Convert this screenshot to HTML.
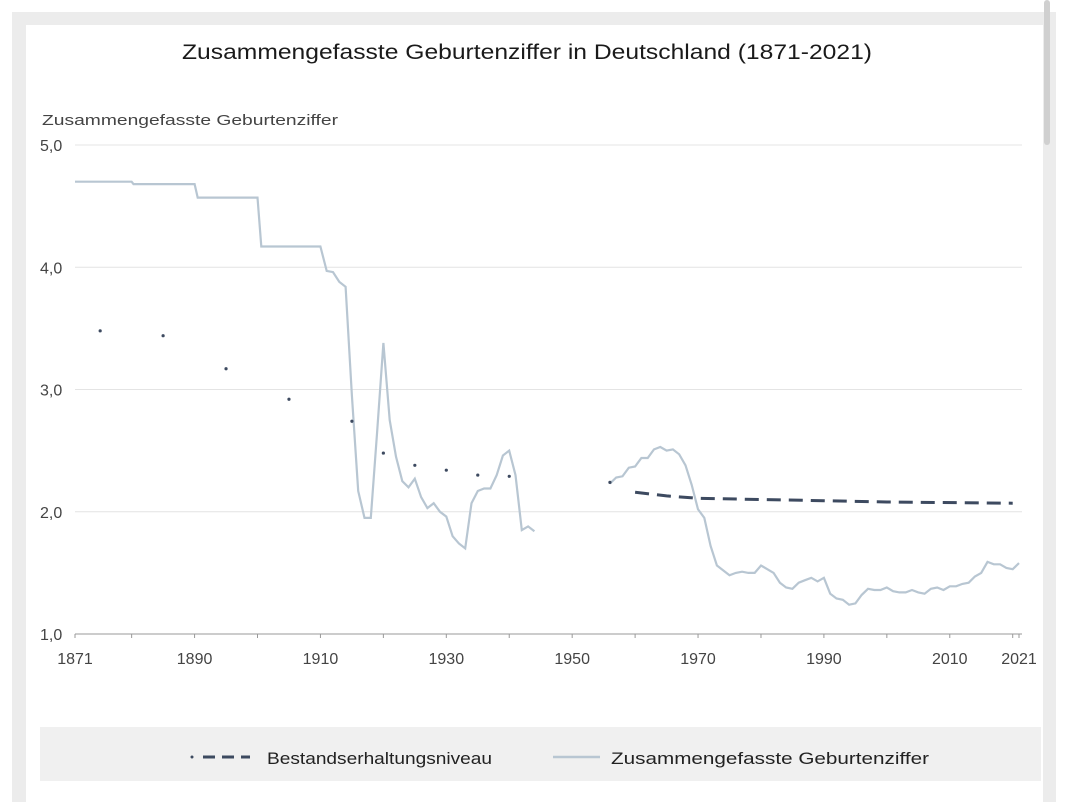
<!DOCTYPE html>
<html><head><meta charset="utf-8"><style>
body{margin:0;width:1080px;height:790px;background:#fff;position:relative;overflow:hidden;font-family:"Liberation Sans",sans-serif;}
.frame{position:absolute;left:12px;top:12px;width:1044px;height:790px;background:#ececec;}
.card{position:absolute;left:26px;top:25px;width:1017px;height:780px;background:#fff;}
.sb{position:absolute;left:1044px;top:0;width:6px;height:145px;background:#d0d0d0;border-radius:3px;}
</style></head><body>
<div class="frame"></div><div class="card"></div><div class="sb"></div>
<svg id="s" width="1080" height="790" style="position:absolute;left:0;top:0" font-family="Liberation Sans, sans-serif">
<text x="527" y="59" text-anchor="middle" font-size="21" fill="#1a1a1a" textLength="690" lengthAdjust="spacingAndGlyphs">Zusammengefasste Geburtenziffer in Deutschland (1871-2021)</text>
<text x="42" y="125" font-size="15" fill="#444" textLength="296" lengthAdjust="spacingAndGlyphs">Zusammengefasste Geburtenziffer</text>
<rect x="40" y="727" width="1001" height="54" fill="#f0f0f0"/>
<circle cx="192" cy="757" r="1.5" fill="#3d4a60"/>
<line x1="203" y1="757" x2="250" y2="757" stroke="#3d4a60" stroke-width="3" stroke-dasharray="12,7"/>
<text x="267" y="764" font-size="17" fill="#222" textLength="225" lengthAdjust="spacingAndGlyphs">Bestandserhaltungsniveau</text>
<line x1="553" y1="757" x2="600" y2="757" stroke="#b8c6d2" stroke-width="2.5"/>
<text x="611" y="764" font-size="17" fill="#222" textLength="318" lengthAdjust="spacingAndGlyphs">Zusammengefasste Geburtenziffer</text>
<g id="g"></g>
</svg>
<script>
var X=function(y){return 75+(y-1871)*944/150},Y=function(v){return 634-(v-1)*122.25};
var g=document.getElementById('g'),h='';
[5,4,3,2].forEach(function(v){h+='<line x1="75" x2="1022" y1="'+Y(v)+'" y2="'+Y(v)+'" stroke="#e4e4e4" stroke-width="1"/>';
h+='<text x="40" y="'+(Y(v)+6)+'" font-size="16" fill="#444">'+v+',0</text>';});
h+='<text x="40" y="'+(634+6)+'" font-size="16" fill="#444">1,0</text>';
h+='<line x1="75" x2="1022" y1="634" y2="634" stroke="#999" stroke-width="1"/>';
for(var y=1880;y<=2020;y+=10)h+='<line x1="'+X(y)+'" x2="'+X(y)+'" y1="634" y2="638" stroke="#999"/>';
h+='<line x1="75" x2="75" y1="634" y2="638" stroke="#999"/><line x1="1019" x2="1019" y1="634" y2="638" stroke="#999"/>';
[1871,1890,1910,1930,1950,1970,1990,2010,2021].forEach(function(y){h+='<text x="'+X(y)+'" y="664" text-anchor="middle" font-size="16" fill="#444">'+y+'</text>';});
var a=[[1871,4.7],[1880,4.7],[1880.3,4.68],[1890,4.68],[1890.5,4.57],[1900,4.57],[1900.6,4.17],[1910,4.17],[1911,3.97],[1912,3.96],[1913,3.88],[1914,3.84],[1915,2.95],[1916,2.17],[1917,1.95],[1918,1.95],[1919,2.65],[1920,3.38],[1921,2.75],[1922,2.45],[1923,2.25],[1924,2.2],[1925,2.27],[1926,2.12],[1927,2.03],[1928,2.07],[1929,2.0],[1930,1.96],[1931,1.8],[1932,1.74],[1933,1.7],[1934,2.07],[1935,2.17],[1936,2.19],[1937,2.19],[1938,2.3],[1939,2.46],[1940,2.5],[1941,2.3],[1942,1.85],[1943,1.88],[1944,1.84]];
var b=[1.33,1.29,1.28,1.24,1.25,1.32,1.37,1.36,1.36,1.38,1.35,1.34,1.34,1.36,1.34,1.33,1.37,1.38,1.36,1.39,1.39,1.41,1.42,1.47,1.5,1.59,1.57,1.57,1.54,1.53,1.58];
var c=[2.23,2.28,2.29,2.36,2.37,2.44,2.44,2.51,2.53,2.5,2.51,2.47,2.38,2.22,2.02,1.95,1.72,1.56,1.52,1.48,1.5,1.51,1.5,1.5,1.56,1.53,1.5,1.42,1.38,1.37,1.42,1.44,1.46,1.43,1.46].concat(b);
var p=function(arr){return arr.map(function(d){return X(d[0]).toFixed(1)+','+Y(d[1]).toFixed(1)}).join(' ')};
h+='<polyline fill="none" stroke="#b8c6d2" stroke-width="2.2" points="'+p(a)+'"/>';
h+='<polyline fill="none" stroke="#b8c6d2" stroke-width="2.2" points="'+p(c.map(function(v,i){return[1956+i,v]}))+'"/>';
[[1875,3.48],[1885,3.44],[1895,3.17],[1905,2.92],[1915,2.74],[1920,2.48],[1925,2.38],[1930,2.34],[1935,2.3],[1940,2.29],[1956,2.24]].forEach(function(d){h+='<circle cx="'+X(d[0])+'" cy="'+Y(d[1])+'" r="1.6" fill="#3d4a60"/>';});
h+='<polyline fill="none" stroke="#3d4a60" stroke-width="3" stroke-dasharray="14,8" points="'+p([[1960,2.16],[1965,2.13],[1970,2.11],[1980,2.1],[1990,2.09],[2000,2.08],[2020,2.07]])+'"/>';
g.innerHTML=h;
</script>
</body></html>
